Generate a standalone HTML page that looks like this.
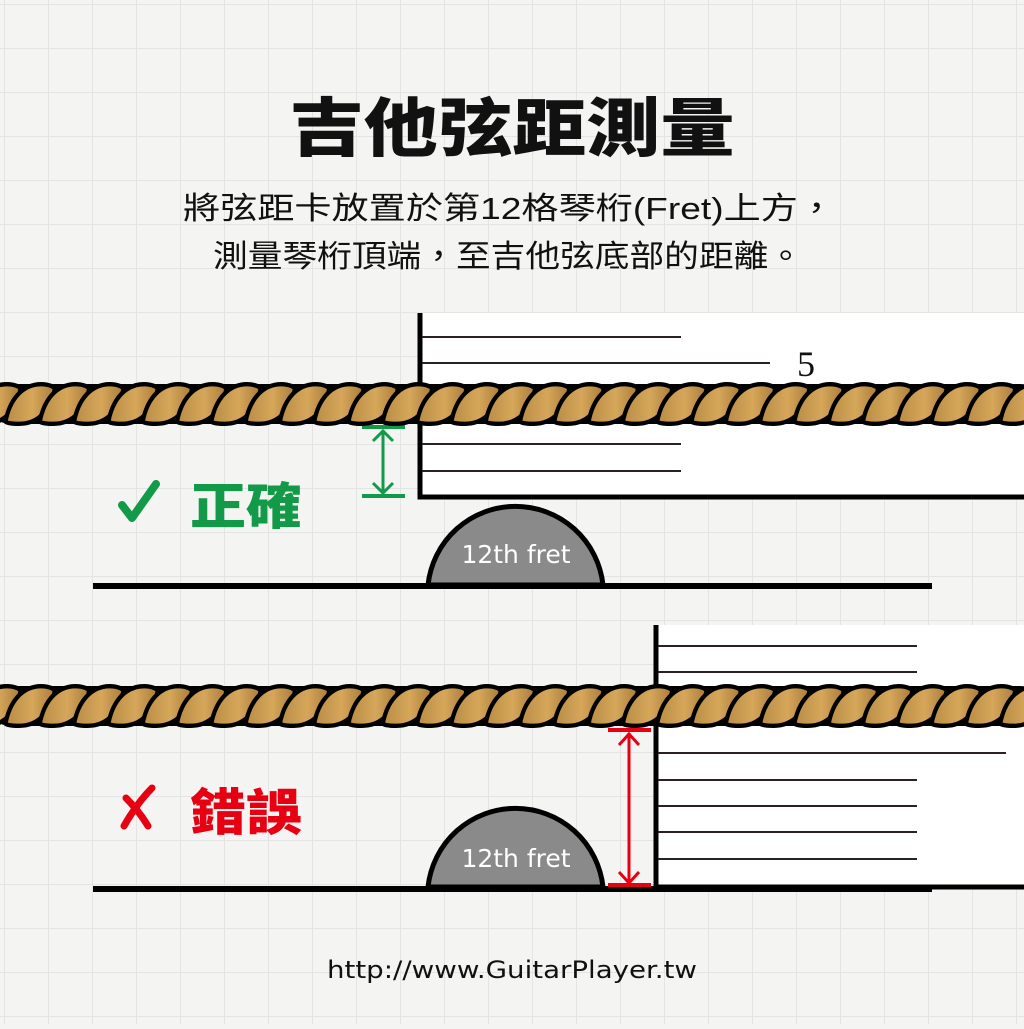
<!DOCTYPE html>
<html><head><meta charset="utf-8"><style>
html,body{margin:0;padding:0;}
body{width:1024px;height:1024px;overflow:hidden;background:#f4f4f2;}
</style></head><body>
<svg width="1024" height="1024" viewBox="0 0 1024 1024" xmlns="http://www.w3.org/2000/svg">
<defs>
<pattern id="grid" width="44" height="44" patternUnits="userSpaceOnUse" x="4" y="4">
<path d="M44 0H0V44" fill="none" stroke="#e4e4e2" stroke-width="2"/>
</pattern>
<linearGradient id="gold" x1="0" y1="0" x2="1" y2="0">
<stop offset="0" stop-color="#b88c45"/><stop offset="0.55" stop-color="#d6a75a"/><stop offset="1" stop-color="#a97c3a"/>
</linearGradient>
</defs>
<rect width="1024" height="1024" fill="url(#grid)"/>

<text x="512" y="151" text-anchor="middle" font-family="'Liberation Sans','Noto Sans CJK TC',sans-serif" font-size="64" font-weight="900" fill="#111" textLength="445" lengthAdjust="spacingAndGlyphs">吉他弦距測量</text>
<text x="183" y="219" font-family="'Liberation Sans','Noto Sans CJK TC',sans-serif" font-size="31" fill="#111" textLength="652" lengthAdjust="spacingAndGlyphs">將弦距卡放置於第12格琴桁(Fret)上方，</text>
<text x="213" y="267" font-family="'Liberation Sans','Noto Sans CJK TC',sans-serif" font-size="31" fill="#111" textLength="590" lengthAdjust="spacingAndGlyphs">測量琴桁頂端，至吉他弦底部的距離。</text>

<!-- Top card -->
<rect x="420" y="313" width="610" height="184" fill="#fff"/>
<path d="M420 313V497H1030" fill="none" stroke="#000" stroke-width="5"/>
<g stroke="#2a2222" stroke-width="2">
<line x1="422" y1="337" x2="681" y2="337"/>
<line x1="422" y1="363" x2="770" y2="363"/>
<line x1="422" y1="444" x2="681" y2="444"/>
<line x1="422" y1="471" x2="681" y2="471"/>
</g>
<text x="797" y="376" font-family="'Liberation Serif',serif" font-size="36" fill="#111">5</text>

<!-- Top fret -->
<path d="M428 585 A88 88 0 0 1 603 585Z" fill="#8a8a8a" stroke="#000" stroke-width="5"/>
<line x1="93" y1="586" x2="932" y2="586" stroke="#000" stroke-width="6"/>
<text x="516" y="563" text-anchor="middle" font-family="'DejaVu Sans',sans-serif" font-size="25" fill="#fff">12th fret</text>

<!-- Green arrow -->
<g stroke="#129a48" stroke-width="3" fill="none">
<line x1="362" y1="427" x2="405" y2="427" stroke-width="4"/>
<line x1="362" y1="496" x2="405" y2="496" stroke-width="4"/>
<line x1="383" y1="430" x2="383" y2="494"/>
<path d="M373 441 L383 431 L393 441"/>
<path d="M373 483 L383 493 L393 483"/>
</g>
<path d="M122 505 L132 518 L156 484" fill="none" stroke="#129a48" stroke-width="8" stroke-linecap="round" stroke-linejoin="round"/>
<text x="190" y="524" font-family="'Liberation Sans','Noto Sans CJK TC',sans-serif" font-size="50" font-weight="900" fill="#129a48" textLength="112" lengthAdjust="spacingAndGlyphs">正確</text>

<!-- Bottom card -->
<rect x="656" y="625" width="370" height="262" fill="#fff"/>
<path d="M656 625V887H1030" fill="none" stroke="#000" stroke-width="5"/>
<g stroke="#2a2222" stroke-width="2">
<line x1="658" y1="646" x2="917" y2="646"/>
<line x1="658" y1="672" x2="917" y2="672"/>
<line x1="658" y1="753" x2="1006" y2="753"/>
<line x1="658" y1="780" x2="917" y2="780"/>
<line x1="658" y1="806" x2="917" y2="806"/>
<line x1="658" y1="832" x2="917" y2="832"/>
<line x1="658" y1="859" x2="917" y2="859"/>
</g>

<!-- Bottom fret -->
<path d="M428 887 A88 88 0 0 1 603 887Z" fill="#8a8a8a" stroke="#000" stroke-width="5"/>
<line x1="93" y1="889" x2="932" y2="889" stroke="#000" stroke-width="6"/>
<text x="516" y="867" text-anchor="middle" font-family="'DejaVu Sans',sans-serif" font-size="25" fill="#fff">12th fret</text>

<!-- Red arrow -->
<g stroke="#e60012" stroke-width="3" fill="none">
<line x1="608" y1="730" x2="651" y2="730" stroke-width="4"/>
<line x1="608" y1="885" x2="651" y2="885" stroke-width="4"/>
<line x1="629" y1="733" x2="629" y2="882"/>
<path d="M619 745 L629 734 L639 745"/>
<path d="M619 872 L629 883 L639 872"/>
</g>
<path d="M124 826 C132 812 142 798 152 788 M126 798 C134 806 142 816 148 826" fill="none" stroke="#e60012" stroke-width="7" stroke-linecap="round"/>
<text x="190" y="830" font-family="'Liberation Sans','Noto Sans CJK TC',sans-serif" font-size="50" font-weight="900" fill="#e60012" textLength="112" lengthAdjust="spacingAndGlyphs">錯誤</text>

<text x="512" y="978" text-anchor="middle" font-family="'DejaVu Sans',sans-serif" font-size="24" fill="#111" textLength="370" lengthAdjust="spacingAndGlyphs">http://www.GuitarPlayer.tw</text>

<g id="ropes"></g>
</svg>
<script>
(function(){
  var ns="http://www.w3.org/2000/svg";
  var g=document.getElementById("ropes");
  [404,706].forEach(function(cy){
    var r=document.createElementNS(ns,"rect");
    r.setAttribute("x","-10");r.setAttribute("y",cy-20);r.setAttribute("width","1050");r.setAttribute("height","40");r.setAttribute("rx","20");r.setAttribute("fill","#000");
    g.appendChild(r);
    for(var x=-40;x<1070;x+=34.3){
      var p=document.createElementNS(ns,"path");
      p.setAttribute("d","M-22 16 C-18 -4 -6 -18 12 -18 C20 -18 25 -15 25 -14 C21 6 9 18 -9 18 C-17 18 -22 17 -22 16Z");
      p.setAttribute("transform","translate("+x+","+cy+") scale(1.05,1.1)");
      p.setAttribute("fill","url(#gold)");p.setAttribute("stroke","#000");p.setAttribute("stroke-width","4");p.setAttribute("stroke-linejoin","round");
      g.appendChild(p);
    }
  });
})();
</script>
</body></html>
